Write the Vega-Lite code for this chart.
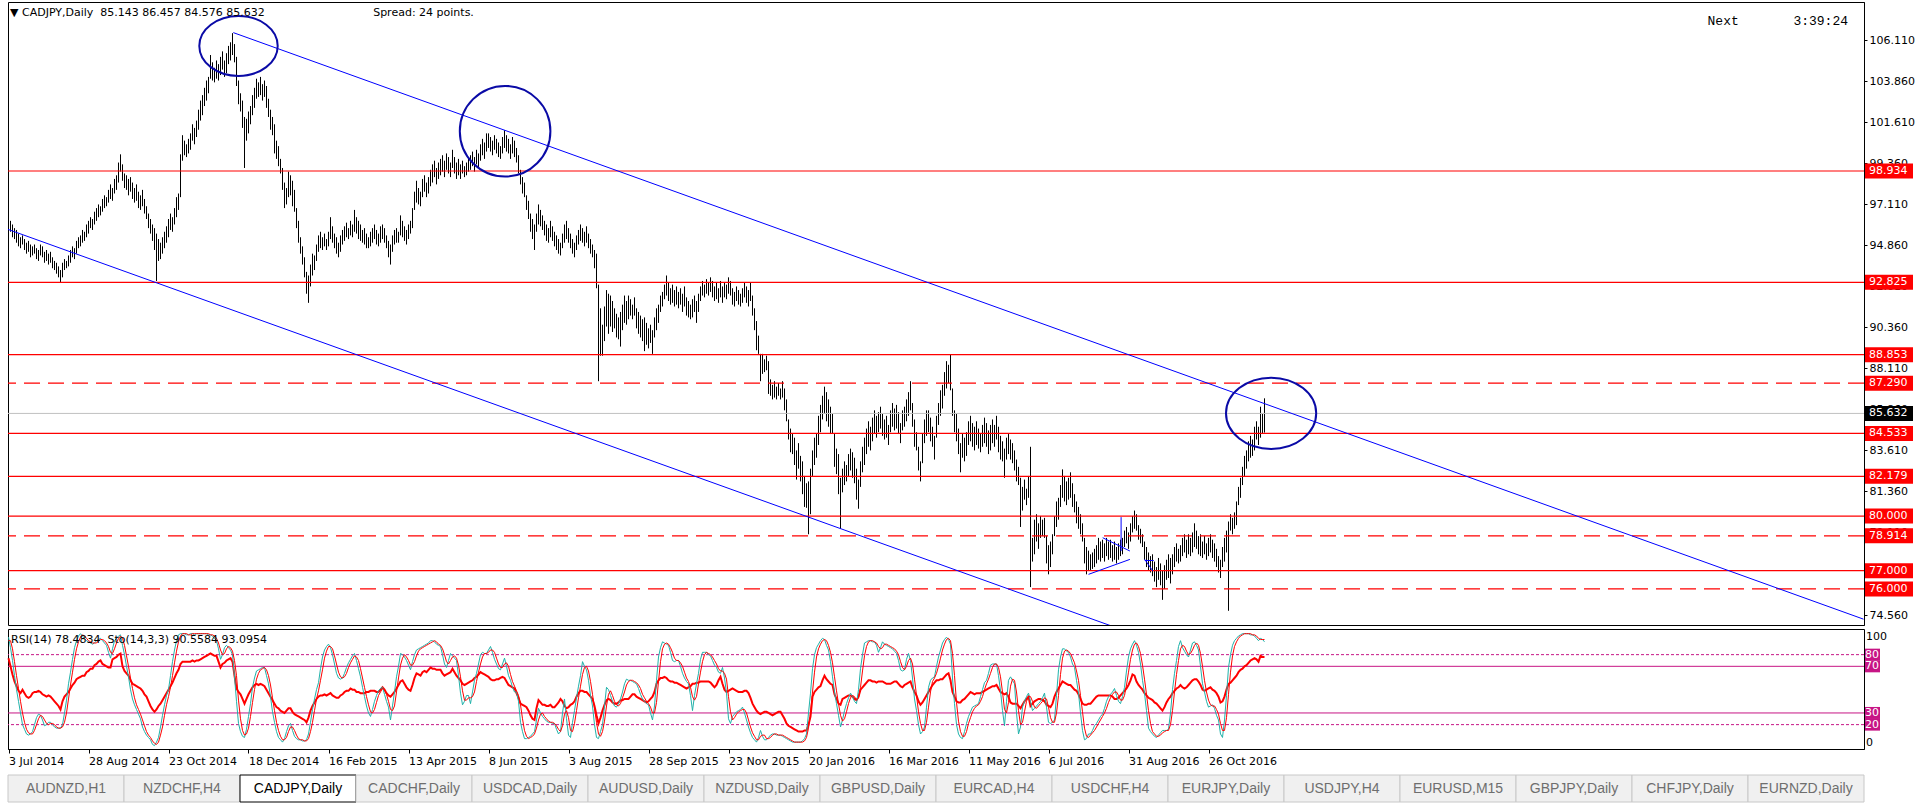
{
"$schema": "https://vega.github.io/schema/vega-lite/v6.json",
"padding": {"left": 4, "top": 1, "right": 0, "bottom": 0},
"background": "#FFFFFF",
"spacing": 2,
"title": {"text": "\u25bc CADJPY,Daily\u00a0\u00a085.143 86.457 84.576 85.632\u00a0\u00a0\u00a0\u00a0\u00a0\u00a0\u00a0\u00a0\u00a0\u00a0\u00a0\u00a0\u00a0\u00a0\u00a0\u00a0\u00a0\u00a0\u00a0\u00a0\u00a0\u00a0\u00a0\u00a0\u00a0\u00a0\u00a0\u00a0\u00a0\u00a0\u00a0Spread: 24 points.", "anchor": "start", "baseline": "top", "offset": -16, "dx": 6, "font": "DejaVu Sans", "fontSize": 11, "fontWeight": "normal", "color": "#000000"},
"config": {"view": {"stroke": "#000000", "strokeWidth": 1}},
"datasets": {
"bars": [
{"i":0,"h":96.4,"l":95.7,"r":77,"k":95,"d":92},
{"i":1,"h":96.2,"l":95.6,"r":70,"k":86,"d":92},
{"i":2,"h":96.0,"l":95.3,"r":63,"k":75,"d":85},
{"i":3,"h":95.8,"l":95.2,"r":57,"k":62,"d":74},
{"i":4,"h":95.7,"l":95.0,"r":53,"k":50,"d":62},
{"i":5,"h":95.5,"l":94.8,"r":49,"k":40,"d":51},
{"i":6,"h":95.3,"l":94.7,"r":47,"k":30,"d":40},
{"i":7,"h":95.4,"l":94.9,"r":50,"k":20,"d":30},
{"i":8,"h":95.2,"l":94.6,"r":47,"k":16,"d":22},
{"i":9,"h":95.0,"l":94.4,"r":44,"k":12,"d":16},
{"i":10,"h":95.1,"l":94.5,"r":43,"k":11,"d":13},
{"i":11,"h":94.9,"l":94.2,"r":44,"k":12,"d":12},
{"i":12,"h":94.8,"l":94.3,"r":47,"k":14,"d":12},
{"i":13,"h":94.9,"l":94.4,"r":48,"k":20,"d":15},
{"i":14,"h":94.7,"l":94.1,"r":48,"k":26,"d":20},
{"i":15,"h":94.6,"l":94.0,"r":49,"k":29,"d":25},
{"i":16,"h":94.9,"l":94.3,"r":48,"k":28,"d":28},
{"i":17,"h":94.8,"l":94.2,"r":46,"k":24,"d":27},
{"i":18,"h":94.5,"l":93.9,"r":45,"k":19,"d":24},
{"i":19,"h":94.6,"l":94.0,"r":44,"k":20,"d":21},
{"i":20,"h":94.4,"l":93.8,"r":45,"k":22,"d":20},
{"i":21,"h":94.5,"l":93.9,"r":44,"k":22,"d":21},
{"i":22,"h":94.2,"l":93.6,"r":42,"k":20,"d":21},
{"i":23,"h":94.0,"l":93.5,"r":40,"k":18,"d":20},
{"i":24,"h":93.9,"l":93.3,"r":38,"k":17,"d":18},
{"i":25,"h":93.7,"l":93.1,"r":36,"k":17,"d":17},
{"i":26,"h":93.5,"l":92.8,"r":33,"k":17,"d":17},
{"i":27,"h":93.9,"l":93.1,"r":40,"k":20,"d":18},
{"i":28,"h":94.1,"l":93.5,"r":44,"k":30,"d":22},
{"i":29,"h":94.0,"l":93.6,"r":46,"k":41,"d":30},
{"i":30,"h":94.3,"l":93.7,"r":48,"k":55,"d":42},
{"i":31,"h":94.6,"l":93.9,"r":51,"k":65,"d":54},
{"i":32,"h":94.8,"l":94.2,"r":54,"k":76,"d":65},
{"i":33,"h":94.7,"l":94.1,"r":56,"k":86,"d":76},
{"i":34,"h":95.1,"l":94.4,"r":59,"k":92,"d":85},
{"i":35,"h":95.3,"l":94.7,"r":60,"k":96,"d":91},
{"i":36,"h":95.4,"l":94.8,"r":61,"k":98,"d":95},
{"i":37,"h":95.7,"l":95.0,"r":62,"k":96,"d":97},
{"i":38,"h":95.6,"l":95.1,"r":62,"k":94,"d":96},
{"i":39,"h":96.0,"l":95.3,"r":65,"k":92,"d":94},
{"i":40,"h":96.2,"l":95.5,"r":66,"k":91,"d":92},
{"i":41,"h":96.4,"l":95.8,"r":68,"k":90,"d":91},
{"i":42,"h":96.3,"l":95.7,"r":68,"k":89,"d":90},
{"i":43,"h":96.7,"l":96.0,"r":71,"k":90,"d":90},
{"i":44,"h":96.9,"l":96.2,"r":72,"k":92,"d":90},
{"i":45,"h":97.1,"l":96.4,"r":74,"k":93,"d":92},
{"i":46,"h":97.0,"l":96.5,"r":75,"k":94,"d":93},
{"i":47,"h":97.4,"l":96.7,"r":72,"k":92,"d":93},
{"i":48,"h":97.6,"l":96.9,"r":71,"k":90,"d":92},
{"i":49,"h":97.5,"l":97.0,"r":70,"k":88,"d":90},
{"i":50,"h":97.9,"l":97.2,"r":69,"k":82,"d":87},
{"i":51,"h":98.2,"l":97.4,"r":69,"k":77,"d":82},
{"i":52,"h":98.0,"l":97.3,"r":76,"k":85,"d":81},
{"i":53,"h":98.5,"l":97.7,"r":77,"k":92,"d":85},
{"i":54,"h":98.7,"l":97.9,"r":78,"k":94,"d":90},
{"i":55,"h":99.4,"l":98.3,"r":80,"k":96,"d":94},
{"i":56,"h":99.85,"l":98.9,"r":81,"k":97,"d":96},
{"i":57,"h":99.3,"l":98.4,"r":70,"k":88,"d":94},
{"i":58,"h":98.8,"l":98.0,"r":66,"k":80,"d":88},
{"i":59,"h":98.7,"l":97.9,"r":64,"k":70,"d":79},
{"i":60,"h":98.5,"l":97.6,"r":62,"k":61,"d":70},
{"i":61,"h":98.6,"l":97.8,"r":58,"k":50,"d":60},
{"i":62,"h":98.3,"l":97.4,"r":55,"k":42,"d":51},
{"i":63,"h":98.0,"l":97.2,"r":54,"k":37,"d":43},
{"i":64,"h":98.2,"l":97.3,"r":53,"k":33,"d":37},
{"i":65,"h":97.8,"l":96.9,"r":52,"k":29,"d":33},
{"i":66,"h":97.6,"l":96.8,"r":51,"k":25,"d":29},
{"i":67,"h":97.9,"l":97.0,"r":49,"k":18,"d":24},
{"i":68,"h":97.4,"l":96.6,"r":46,"k":14,"d":19},
{"i":69,"h":97.0,"l":96.3,"r":44,"k":11,"d":14},
{"i":70,"h":96.6,"l":95.8,"r":40,"k":9,"d":11},
{"i":71,"h":96.3,"l":95.5,"r":36,"k":7,"d":9},
{"i":72,"h":96.0,"l":95.1,"r":33,"k":3,"d":6},
{"i":73,"h":95.8,"l":94.6,"r":31,"k":2,"d":4},
{"i":74,"h":95.5,"l":92.9,"r":33,"k":5,"d":3},
{"i":75,"h":95.2,"l":94.0,"r":36,"k":9,"d":5},
{"i":76,"h":95.0,"l":94.1,"r":38,"k":18,"d":11},
{"i":77,"h":95.3,"l":94.4,"r":41,"k":28,"d":18},
{"i":78,"h":95.6,"l":94.7,"r":44,"k":37,"d":28},
{"i":79,"h":95.9,"l":95.0,"r":47,"k":45,"d":37},
{"i":80,"h":96.3,"l":95.3,"r":50,"k":50,"d":44},
{"i":81,"h":96.6,"l":95.7,"r":53,"k":62,"d":52},
{"i":82,"h":96.4,"l":95.6,"r":56,"k":74,"d":62},
{"i":83,"h":96.9,"l":96.0,"r":60,"k":84,"d":73},
{"i":84,"h":97.5,"l":96.4,"r":64,"k":92,"d":83},
{"i":85,"h":97.7,"l":96.8,"r":67,"k":97,"d":91},
{"i":86,"h":99.85,"l":97.5,"r":72,"k":98,"d":96},
{"i":87,"h":100.9,"l":99.5,"r":74,"k":98,"d":98},
{"i":88,"h":100.6,"l":99.8,"r":74,"k":98,"d":98},
{"i":89,"h":100.4,"l":99.7,"r":74,"k":97,"d":98},
{"i":90,"h":100.7,"l":99.9,"r":74,"k":97,"d":97},
{"i":91,"h":101.0,"l":100.1,"r":74,"k":98,"d":97},
{"i":92,"h":101.5,"l":100.6,"r":75,"k":98,"d":98},
{"i":93,"h":101.3,"l":100.4,"r":74,"k":97,"d":98},
{"i":94,"h":101.7,"l":100.8,"r":75,"k":98,"d":98},
{"i":95,"h":102.3,"l":101.2,"r":75,"k":98,"d":98},
{"i":96,"h":102.8,"l":101.7,"r":76,"k":98,"d":98},
{"i":97,"h":103.1,"l":102.0,"r":77,"k":98,"d":98},
{"i":98,"h":103.5,"l":102.5,"r":78,"k":98,"d":98},
{"i":99,"h":103.9,"l":102.8,"r":79,"k":98,"d":98},
{"i":100,"h":104.1,"l":103.2,"r":80,"k":97,"d":98},
{"i":101,"h":105.3,"l":104.0,"r":81,"k":97,"d":97},
{"i":102,"h":104.9,"l":103.9,"r":80,"k":96,"d":97},
{"i":103,"h":104.6,"l":103.8,"r":79,"k":94,"d":96},
{"i":104,"h":105.0,"l":104.0,"r":79,"k":92,"d":94},
{"i":105,"h":104.8,"l":103.9,"r":74,"k":85,"d":90},
{"i":106,"h":105.2,"l":104.2,"r":69,"k":76,"d":84},
{"i":107,"h":105.5,"l":104.5,"r":72,"k":80,"d":80},
{"i":108,"h":105.0,"l":104.1,"r":73,"k":86,"d":81},
{"i":109,"h":105.4,"l":104.3,"r":75,"k":88,"d":85},
{"i":110,"h":105.8,"l":104.8,"r":76,"k":86,"d":87},
{"i":111,"h":106.0,"l":105.0,"r":77,"k":84,"d":86},
{"i":112,"h":106.5,"l":105.3,"r":74,"k":80,"d":83},
{"i":113,"h":105.9,"l":104.9,"r":62,"k":61,"d":75},
{"i":114,"h":105.2,"l":103.6,"r":51,"k":40,"d":62},
{"i":115,"h":103.9,"l":102.6,"r":48,"k":21,"d":41},
{"i":116,"h":103.2,"l":102.2,"r":46,"k":14,"d":25},
{"i":117,"h":102.8,"l":101.3,"r":42,"k":10,"d":15},
{"i":118,"h":101.9,"l":99.1,"r":38,"k":9,"d":11},
{"i":119,"h":101.8,"l":100.6,"r":42,"k":16,"d":12},
{"i":120,"h":102.2,"l":101.0,"r":46,"k":27,"d":17},
{"i":121,"h":102.5,"l":101.5,"r":49,"k":38,"d":27},
{"i":122,"h":103.1,"l":102.0,"r":52,"k":52,"d":39},
{"i":123,"h":103.5,"l":102.4,"r":54,"k":60,"d":50},
{"i":124,"h":104.0,"l":102.9,"r":55,"k":66,"d":59},
{"i":125,"h":103.8,"l":103.0,"r":54,"k":67,"d":64},
{"i":126,"h":104.1,"l":103.1,"r":55,"k":68,"d":67},
{"i":127,"h":103.7,"l":102.8,"r":54,"k":69,"d":68},
{"i":128,"h":103.9,"l":103.0,"r":53,"k":69,"d":69},
{"i":129,"h":103.6,"l":102.4,"r":50,"k":62,"d":67},
{"i":130,"h":102.9,"l":101.9,"r":47,"k":55,"d":62},
{"i":131,"h":102.3,"l":101.2,"r":44,"k":44,"d":54},
{"i":132,"h":101.9,"l":100.9,"r":41,"k":31,"d":43},
{"i":133,"h":101.5,"l":99.9,"r":38,"k":22,"d":32},
{"i":134,"h":100.6,"l":99.6,"r":35,"k":14,"d":22},
{"i":135,"h":100.3,"l":99.2,"r":34,"k":9,"d":15},
{"i":136,"h":99.6,"l":98.8,"r":32,"k":7,"d":10},
{"i":137,"h":99.1,"l":97.9,"r":31,"k":5,"d":7},
{"i":138,"h":98.3,"l":96.9,"r":30,"k":8,"d":7},
{"i":139,"h":98.0,"l":97.1,"r":32,"k":14,"d":9},
{"i":140,"h":98.9,"l":97.5,"r":34,"k":19,"d":14},
{"i":141,"h":98.7,"l":97.6,"r":34,"k":21,"d":18},
{"i":142,"h":98.4,"l":97.0,"r":31,"k":15,"d":18},
{"i":143,"h":97.9,"l":96.7,"r":29,"k":10,"d":15},
{"i":144,"h":96.9,"l":95.8,"r":28,"k":8,"d":11},
{"i":145,"h":96.2,"l":95.0,"r":27,"k":7,"d":8},
{"i":146,"h":95.3,"l":94.4,"r":26,"k":7,"d":7},
{"i":147,"h":94.8,"l":93.8,"r":25,"k":6,"d":7},
{"i":148,"h":94.2,"l":93.1,"r":24,"k":6,"d":6},
{"i":149,"h":93.4,"l":92.2,"r":22,"k":7,"d":6},
{"i":150,"h":93.2,"l":91.7,"r":26,"k":12,"d":8},
{"i":151,"h":93.8,"l":92.6,"r":32,"k":22,"d":14},
{"i":152,"h":94.4,"l":93.2,"r":36,"k":33,"d":22},
{"i":153,"h":94.3,"l":93.5,"r":39,"k":42,"d":32},
{"i":154,"h":94.9,"l":94.0,"r":42,"k":50,"d":42},
{"i":155,"h":95.4,"l":94.5,"r":44,"k":56,"d":49},
{"i":156,"h":95.6,"l":94.7,"r":45,"k":68,"d":58},
{"i":157,"h":95.3,"l":94.6,"r":45,"k":78,"d":67},
{"i":158,"h":95.5,"l":94.8,"r":46,"k":84,"d":77},
{"i":159,"h":95.2,"l":94.6,"r":45,"k":87,"d":83},
{"i":160,"h":95.6,"l":94.8,"r":46,"k":89,"d":87},
{"i":161,"h":96.4,"l":95.2,"r":47,"k":86,"d":87},
{"i":162,"h":95.9,"l":95.0,"r":45,"k":80,"d":85},
{"i":163,"h":95.5,"l":94.7,"r":44,"k":72,"d":79},
{"i":164,"h":95.3,"l":94.4,"r":43,"k":64,"d":72},
{"i":165,"h":95.0,"l":94.2,"r":43,"k":60,"d":65},
{"i":166,"h":95.4,"l":94.5,"r":45,"k":59,"d":61},
{"i":167,"h":95.7,"l":94.9,"r":46,"k":60,"d":60},
{"i":168,"h":95.9,"l":95.1,"r":48,"k":64,"d":61},
{"i":169,"h":96.1,"l":95.3,"r":49,"k":69,"d":64},
{"i":170,"h":95.8,"l":95.2,"r":49,"k":73,"d":69},
{"i":171,"h":96.2,"l":95.4,"r":51,"k":76,"d":73},
{"i":172,"h":96.0,"l":95.3,"r":50,"k":79,"d":76},
{"i":173,"h":96.8,"l":95.6,"r":50,"k":81,"d":79},
{"i":174,"h":96.4,"l":95.5,"r":48,"k":75,"d":78},
{"i":175,"h":96.2,"l":95.2,"r":48,"k":68,"d":75},
{"i":176,"h":96.0,"l":95.1,"r":47,"k":61,"d":68},
{"i":177,"h":95.7,"l":95.0,"r":47,"k":52,"d":60},
{"i":178,"h":95.8,"l":94.9,"r":47,"k":44,"d":52},
{"i":179,"h":95.5,"l":94.7,"r":48,"k":36,"d":44},
{"i":180,"h":95.3,"l":94.7,"r":48,"k":30,"d":37},
{"i":181,"h":95.6,"l":94.8,"r":49,"k":27,"d":31},
{"i":182,"h":95.8,"l":95.0,"r":49,"k":33,"d":30},
{"i":183,"h":96.0,"l":95.2,"r":49,"k":40,"d":33},
{"i":184,"h":95.7,"l":94.9,"r":48,"k":45,"d":39},
{"i":185,"h":95.5,"l":94.8,"r":48,"k":49,"d":45},
{"i":186,"h":95.9,"l":95.0,"r":50,"k":51,"d":48},
{"i":187,"h":96.0,"l":95.2,"r":52,"k":52,"d":51},
{"i":188,"h":95.8,"l":95.0,"r":50,"k":46,"d":50},
{"i":189,"h":95.4,"l":94.7,"r":47,"k":40,"d":46},
{"i":190,"h":95.1,"l":94.2,"r":45,"k":35,"d":40},
{"i":191,"h":94.9,"l":93.8,"r":44,"k":24,"d":33},
{"i":192,"h":95.4,"l":94.5,"r":46,"k":36,"d":32},
{"i":193,"h":95.7,"l":94.9,"r":48,"k":48,"d":36},
{"i":194,"h":95.8,"l":95.0,"r":51,"k":61,"d":48},
{"i":195,"h":95.6,"l":95.0,"r":54,"k":70,"d":60},
{"i":196,"h":96.5,"l":95.4,"r":57,"k":81,"d":71},
{"i":197,"h":96.2,"l":95.3,"r":58,"k":80,"d":77},
{"i":198,"h":95.9,"l":95.1,"r":55,"k":78,"d":80},
{"i":199,"h":95.7,"l":94.9,"r":52,"k":75,"d":78},
{"i":200,"h":96.0,"l":95.2,"r":50,"k":71,"d":75},
{"i":201,"h":96.2,"l":95.5,"r":49,"k":67,"d":71},
{"i":202,"h":96.9,"l":95.8,"r":54,"k":74,"d":71},
{"i":203,"h":97.8,"l":96.8,"r":60,"k":80,"d":74},
{"i":204,"h":98.4,"l":97.2,"r":64,"k":84,"d":79},
{"i":205,"h":98.0,"l":97.1,"r":63,"k":85,"d":83},
{"i":206,"h":97.8,"l":97.0,"r":62,"k":86,"d":85},
{"i":207,"h":98.5,"l":97.5,"r":65,"k":87,"d":86},
{"i":208,"h":98.7,"l":97.8,"r":66,"k":88,"d":87},
{"i":209,"h":98.3,"l":97.5,"r":65,"k":89,"d":88},
{"i":210,"h":98.6,"l":97.7,"r":67,"k":90,"d":89},
{"i":211,"h":99.0,"l":98.1,"r":69,"k":92,"d":90},
{"i":212,"h":99.3,"l":98.3,"r":68,"k":92,"d":91},
{"i":213,"h":99.5,"l":98.6,"r":68,"k":91,"d":92},
{"i":214,"h":99.1,"l":98.2,"r":67,"k":89,"d":91},
{"i":215,"h":99.4,"l":98.5,"r":67,"k":88,"d":89},
{"i":216,"h":99.6,"l":98.7,"r":67,"k":87,"d":88},
{"i":217,"h":99.8,"l":98.9,"r":64,"k":80,"d":85},
{"i":218,"h":99.5,"l":98.6,"r":62,"k":72,"d":80},
{"i":219,"h":99.9,"l":99.0,"r":63,"k":69,"d":74},
{"i":220,"h":99.7,"l":98.8,"r":64,"k":75,"d":72},
{"i":221,"h":99.4,"l":98.6,"r":65,"k":81,"d":75},
{"i":222,"h":100.1,"l":99.1,"r":68,"k":79,"d":78},
{"i":223,"h":99.7,"l":98.8,"r":65,"k":77,"d":79},
{"i":224,"h":99.4,"l":98.5,"r":62,"k":75,"d":77},
{"i":225,"h":99.6,"l":98.7,"r":60,"k":62,"d":71},
{"i":226,"h":99.3,"l":98.5,"r":58,"k":47,"d":61},
{"i":227,"h":99.5,"l":98.8,"r":55,"k":37,"d":49},
{"i":228,"h":99.2,"l":98.6,"r":54,"k":40,"d":41},
{"i":229,"h":99.4,"l":98.7,"r":55,"k":45,"d":41},
{"i":230,"h":99.6,"l":98.9,"r":56,"k":45,"d":43},
{"i":231,"h":99.8,"l":99.0,"r":57,"k":38,"d":43},
{"i":232,"h":100.0,"l":99.2,"r":58,"k":48,"d":44},
{"i":233,"h":99.7,"l":98.9,"r":60,"k":58,"d":48},
{"i":234,"h":100.1,"l":99.3,"r":61,"k":64,"d":57},
{"i":235,"h":99.9,"l":99.1,"r":63,"k":72,"d":65},
{"i":236,"h":100.4,"l":99.5,"r":65,"k":80,"d":72},
{"i":237,"h":100.7,"l":99.8,"r":64,"k":82,"d":78},
{"i":238,"h":100.5,"l":99.6,"r":63,"k":81,"d":81},
{"i":239,"h":101.0,"l":100.0,"r":62,"k":81,"d":81},
{"i":240,"h":101.0,"l":100.2,"r":61,"k":84,"d":82},
{"i":241,"h":100.8,"l":100.0,"r":59,"k":87,"d":84},
{"i":242,"h":100.6,"l":99.8,"r":58,"k":82,"d":84},
{"i":243,"h":100.9,"l":100.1,"r":58,"k":76,"d":82},
{"i":244,"h":100.7,"l":99.9,"r":59,"k":72,"d":77},
{"i":245,"h":100.5,"l":99.7,"r":59,"k":68,"d":72},
{"i":246,"h":100.3,"l":99.6,"r":60,"k":67,"d":69},
{"i":247,"h":100.8,"l":99.9,"r":61,"k":72,"d":69},
{"i":248,"h":101.17,"l":100.2,"r":60,"k":77,"d":72},
{"i":249,"h":100.9,"l":100.0,"r":57,"k":70,"d":73},
{"i":250,"h":100.7,"l":99.9,"r":54,"k":62,"d":70},
{"i":251,"h":100.4,"l":99.6,"r":53,"k":58,"d":63},
{"i":252,"h":100.8,"l":99.9,"r":52,"k":52,"d":57},
{"i":253,"h":100.6,"l":99.7,"r":51,"k":48,"d":53},
{"i":254,"h":100.2,"l":99.4,"r":47,"k":48,"d":49},
{"i":255,"h":99.8,"l":98.8,"r":43,"k":40,"d":45},
{"i":256,"h":99.0,"l":98.2,"r":38,"k":22,"d":37},
{"i":257,"h":98.6,"l":97.7,"r":37,"k":14,"d":25},
{"i":258,"h":98.3,"l":97.5,"r":36,"k":8,"d":15},
{"i":259,"h":97.6,"l":96.8,"r":35,"k":8,"d":10},
{"i":260,"h":97.3,"l":96.3,"r":32,"k":9,"d":8},
{"i":261,"h":96.6,"l":95.6,"r":28,"k":10,"d":9},
{"i":262,"h":96.3,"l":95.2,"r":25,"k":12,"d":10},
{"i":263,"h":96.0,"l":94.6,"r":24,"k":14,"d":12},
{"i":264,"h":96.6,"l":95.6,"r":34,"k":24,"d":17},
{"i":265,"h":97.1,"l":96.0,"r":41,"k":34,"d":24},
{"i":266,"h":96.8,"l":95.9,"r":39,"k":30,"d":29},
{"i":267,"h":96.5,"l":95.7,"r":37,"k":27,"d":30},
{"i":268,"h":96.2,"l":95.4,"r":37,"k":25,"d":27},
{"i":269,"h":96.0,"l":95.1,"r":36,"k":23,"d":25},
{"i":270,"h":95.8,"l":95.0,"r":36,"k":22,"d":23},
{"i":271,"h":96.2,"l":95.3,"r":37,"k":22,"d":22},
{"i":272,"h":95.9,"l":95.1,"r":35,"k":21,"d":22},
{"i":273,"h":95.6,"l":94.8,"r":35,"k":21,"d":21},
{"i":274,"h":95.4,"l":94.6,"r":37,"k":16,"d":19},
{"i":275,"h":95.2,"l":94.4,"r":39,"k":12,"d":16},
{"i":276,"h":95.0,"l":94.3,"r":42,"k":14,"d":14},
{"i":277,"h":95.5,"l":94.7,"r":40,"k":30,"d":19},
{"i":278,"h":96.0,"l":95.0,"r":36,"k":42,"d":29},
{"i":279,"h":96.2,"l":95.2,"r":34,"k":25,"d":32},
{"i":280,"h":95.8,"l":95.0,"r":35,"k":11,"d":26},
{"i":281,"h":95.5,"l":94.7,"r":37,"k":9,"d":15},
{"i":282,"h":95.2,"l":94.4,"r":38,"k":22,"d":14},
{"i":283,"h":95.0,"l":94.2,"r":40,"k":32,"d":21},
{"i":284,"h":95.4,"l":94.6,"r":44,"k":43,"d":32},
{"i":285,"h":95.7,"l":94.9,"r":47,"k":53,"d":43},
{"i":286,"h":96.0,"l":95.1,"r":49,"k":62,"d":53},
{"i":287,"h":95.8,"l":95.0,"r":49,"k":74,"d":63},
{"i":288,"h":95.6,"l":94.8,"r":48,"k":70,"d":69},
{"i":289,"h":95.9,"l":95.0,"r":48,"k":67,"d":70},
{"i":290,"h":95.5,"l":94.7,"r":46,"k":58,"d":66},
{"i":291,"h":95.2,"l":94.4,"r":44,"k":45,"d":57},
{"i":292,"h":94.9,"l":94.2,"r":42,"k":36,"d":46},
{"i":293,"h":94.6,"l":93.6,"r":36,"k":20,"d":34},
{"i":294,"h":94.4,"l":92.5,"r":28,"k":9,"d":22},
{"i":295,"h":92.7,"l":87.4,"r":21,"k":8,"d":12},
{"i":296,"h":91.4,"l":88.8,"r":26,"k":14,"d":10},
{"i":297,"h":90.5,"l":88.8,"r":32,"k":20,"d":14},
{"i":298,"h":91.5,"l":89.6,"r":37,"k":36,"d":23},
{"i":299,"h":92.4,"l":90.4,"r":41,"k":52,"d":36},
{"i":300,"h":92.2,"l":90.0,"r":42,"k":50,"d":46},
{"i":301,"h":92.1,"l":90.4,"r":41,"k":45,"d":49},
{"i":302,"h":91.8,"l":90.1,"r":39,"k":40,"d":45},
{"i":303,"h":91.4,"l":90.3,"r":38,"k":36,"d":40},
{"i":304,"h":91.1,"l":89.8,"r":38,"k":35,"d":37},
{"i":305,"h":90.9,"l":89.7,"r":39,"k":38,"d":36},
{"i":306,"h":91.2,"l":89.3,"r":41,"k":42,"d":38},
{"i":307,"h":91.6,"l":90.2,"r":41,"k":48,"d":43},
{"i":308,"h":92.1,"l":90.6,"r":42,"k":55,"d":48},
{"i":309,"h":91.8,"l":90.5,"r":42,"k":59,"d":54},
{"i":310,"h":92.1,"l":90.8,"r":42,"k":58,"d":57},
{"i":311,"h":91.9,"l":91.0,"r":44,"k":58,"d":58},
{"i":312,"h":91.6,"l":90.8,"r":46,"k":57,"d":58},
{"i":313,"h":92.0,"l":91.0,"r":46,"k":56,"d":57},
{"i":314,"h":91.4,"l":90.3,"r":44,"k":55,"d":56},
{"i":315,"h":91.2,"l":90.0,"r":43,"k":51,"d":54},
{"i":316,"h":91.0,"l":89.8,"r":42,"k":46,"d":51},
{"i":317,"h":90.8,"l":89.6,"r":41,"k":42,"d":46},
{"i":318,"h":90.9,"l":89.05,"r":40,"k":40,"d":43},
{"i":319,"h":90.6,"l":89.4,"r":39,"k":38,"d":40},
{"i":320,"h":90.3,"l":89.2,"r":40,"k":37,"d":38},
{"i":321,"h":90.5,"l":89.5,"r":42,"k":30,"d":35},
{"i":322,"h":90.2,"l":88.9,"r":44,"k":24,"d":30},
{"i":323,"h":90.9,"l":89.8,"r":48,"k":36,"d":30},
{"i":324,"h":91.4,"l":90.2,"r":55,"k":58,"d":39},
{"i":325,"h":91.6,"l":90.6,"r":58,"k":78,"d":57},
{"i":326,"h":92.1,"l":91.2,"r":60,"k":86,"d":74},
{"i":327,"h":92.3,"l":91.5,"r":60,"k":91,"d":85},
{"i":328,"h":92.7,"l":91.9,"r":61,"k":90,"d":89},
{"i":329,"h":93.2,"l":92.1,"r":60,"k":89,"d":90},
{"i":330,"h":92.8,"l":91.8,"r":58,"k":88,"d":89},
{"i":331,"h":92.5,"l":91.6,"r":57,"k":82,"d":86},
{"i":332,"h":92.7,"l":91.7,"r":57,"k":75,"d":82},
{"i":333,"h":92.4,"l":91.5,"r":56,"k":74,"d":77},
{"i":334,"h":92.6,"l":91.6,"r":56,"k":75,"d":75},
{"i":335,"h":92.3,"l":91.4,"r":55,"k":75,"d":75},
{"i":336,"h":92.5,"l":91.6,"r":54,"k":70,"d":73},
{"i":337,"h":92.2,"l":91.2,"r":53,"k":64,"d":70},
{"i":338,"h":92.6,"l":91.5,"r":52,"k":60,"d":65},
{"i":339,"h":92.0,"l":91.0,"r":51,"k":57,"d":60},
{"i":340,"h":91.8,"l":90.9,"r":52,"k":55,"d":57},
{"i":341,"h":91.6,"l":90.8,"r":53,"k":45,"d":52},
{"i":342,"h":91.9,"l":90.9,"r":55,"k":32,"d":44},
{"i":343,"h":92.1,"l":91.2,"r":55,"k":45,"d":41},
{"i":344,"h":91.8,"l":90.6,"r":56,"k":55,"d":44},
{"i":345,"h":92.2,"l":91.2,"r":56,"k":64,"d":55},
{"i":346,"h":92.6,"l":91.8,"r":57,"k":76,"d":65},
{"i":347,"h":92.9,"l":92.1,"r":57,"k":82,"d":74},
{"i":348,"h":92.7,"l":92.0,"r":57,"k":82,"d":80},
{"i":349,"h":93.0,"l":92.2,"r":57,"k":82,"d":82},
{"i":350,"h":92.8,"l":92.1,"r":57,"k":80,"d":81},
{"i":351,"h":93.1,"l":92.3,"r":56,"k":79,"d":80},
{"i":352,"h":92.9,"l":92.0,"r":54,"k":75,"d":78},
{"i":353,"h":92.6,"l":91.8,"r":52,"k":71,"d":75},
{"i":354,"h":92.8,"l":91.9,"r":54,"k":69,"d":72},
{"i":355,"h":92.5,"l":91.7,"r":58,"k":65,"d":68},
{"i":356,"h":92.9,"l":92.0,"r":61,"k":64,"d":66},
{"i":357,"h":92.6,"l":91.7,"r":55,"k":69,"d":66},
{"i":358,"h":92.8,"l":92.0,"r":50,"k":60,"d":64},
{"i":359,"h":92.7,"l":91.9,"r":48,"k":47,"d":59},
{"i":360,"h":93.1,"l":92.2,"r":49,"k":25,"d":44},
{"i":361,"h":92.9,"l":92.1,"r":50,"k":21,"d":31},
{"i":362,"h":92.5,"l":91.6,"r":51,"k":27,"d":24},
{"i":363,"h":92.3,"l":91.5,"r":50,"k":29,"d":26},
{"i":364,"h":92.6,"l":91.8,"r":49,"k":31,"d":29},
{"i":365,"h":92.4,"l":91.6,"r":48,"k":32,"d":31},
{"i":366,"h":92.2,"l":91.5,"r":48,"k":33,"d":32},
{"i":367,"h":92.5,"l":91.7,"r":48,"k":35,"d":33},
{"i":368,"h":92.8,"l":92.0,"r":49,"k":30,"d":33},
{"i":369,"h":92.6,"l":91.7,"r":49,"k":24,"d":30},
{"i":370,"h":92.4,"l":91.5,"r":47,"k":18,"d":24},
{"i":371,"h":92.8,"l":91.8,"r":43,"k":13,"d":18},
{"i":372,"h":92.1,"l":91.0,"r":38,"k":9,"d":13},
{"i":373,"h":91.4,"l":90.2,"r":35,"k":7,"d":10},
{"i":374,"h":90.7,"l":89.1,"r":32,"k":5,"d":7},
{"i":375,"h":89.9,"l":88.9,"r":30,"k":9,"d":7},
{"i":376,"h":88.9,"l":87.4,"r":29,"k":15,"d":10},
{"i":377,"h":88.9,"l":87.8,"r":30,"k":10,"d":11},
{"i":378,"h":88.6,"l":87.9,"r":31,"k":7,"d":11},
{"i":379,"h":88.8,"l":88.0,"r":31,"k":7,"d":8},
{"i":380,"h":88.5,"l":86.7,"r":30,"k":9,"d":8},
{"i":381,"h":87.5,"l":86.6,"r":29,"k":11,"d":9},
{"i":382,"h":87.2,"l":86.4,"r":28,"k":12,"d":11},
{"i":383,"h":87.4,"l":86.5,"r":29,"k":12,"d":12},
{"i":384,"h":87.1,"l":86.4,"r":30,"k":11,"d":12},
{"i":385,"h":87.3,"l":86.6,"r":31,"k":11,"d":11},
{"i":386,"h":87.0,"l":86.4,"r":31,"k":11,"d":11},
{"i":387,"h":87.4,"l":86.5,"r":28,"k":10,"d":11},
{"i":388,"h":87.0,"l":85.8,"r":25,"k":9,"d":10},
{"i":389,"h":86.4,"l":85.2,"r":21,"k":8,"d":9},
{"i":390,"h":85.3,"l":84.2,"r":19,"k":7,"d":8},
{"i":391,"h":84.8,"l":83.5,"r":18,"k":6,"d":7},
{"i":392,"h":84.5,"l":83.4,"r":17,"k":5,"d":6},
{"i":393,"h":84.3,"l":82.8,"r":16,"k":5,"d":5},
{"i":394,"h":83.6,"l":82.0,"r":15,"k":5,"d":5},
{"i":395,"h":84.0,"l":82.6,"r":14,"k":5,"d":5},
{"i":396,"h":83.3,"l":81.9,"r":14,"k":5,"d":5},
{"i":397,"h":83.0,"l":81.2,"r":14,"k":6,"d":5},
{"i":398,"h":82.2,"l":80.5,"r":15,"k":8,"d":6},
{"i":399,"h":81.8,"l":80.45,"r":15,"k":12,"d":9},
{"i":400,"h":81.9,"l":79.0,"r":20,"k":30,"d":17},
{"i":401,"h":82.6,"l":80.1,"r":27,"k":47,"d":30},
{"i":402,"h":83.6,"l":82.2,"r":44,"k":68,"d":48},
{"i":403,"h":84.3,"l":82.8,"r":48,"k":80,"d":65},
{"i":404,"h":84.5,"l":83.2,"r":50,"k":86,"d":78},
{"i":405,"h":85.5,"l":83.9,"r":52,"k":89,"d":85},
{"i":406,"h":86.1,"l":84.6,"r":53,"k":92,"d":89},
{"i":407,"h":86.6,"l":85.3,"r":58,"k":94,"d":92},
{"i":408,"h":87.1,"l":85.6,"r":62,"k":93,"d":93},
{"i":409,"h":86.8,"l":85.2,"r":59,"k":88,"d":92},
{"i":410,"h":86.4,"l":84.9,"r":57,"k":84,"d":88},
{"i":411,"h":86.0,"l":84.5,"r":55,"k":74,"d":82},
{"i":412,"h":85.6,"l":84.5,"r":54,"k":61,"d":73},
{"i":413,"h":84.5,"l":82.7,"r":46,"k":48,"d":61},
{"i":414,"h":83.7,"l":82.3,"r":42,"k":38,"d":49},
{"i":415,"h":83.4,"l":81.2,"r":38,"k":28,"d":38},
{"i":416,"h":82.1,"l":79.3,"r":37,"k":18,"d":28},
{"i":417,"h":82.6,"l":81.3,"r":42,"k":24,"d":23},
{"i":418,"h":83.0,"l":81.7,"r":43,"k":32,"d":25},
{"i":419,"h":82.8,"l":81.9,"r":44,"k":38,"d":31},
{"i":420,"h":83.4,"l":82.2,"r":45,"k":43,"d":38},
{"i":421,"h":83.7,"l":82.5,"r":45,"k":47,"d":43},
{"i":422,"h":83.5,"l":82.1,"r":44,"k":44,"d":45},
{"i":423,"h":83.2,"l":81.8,"r":42,"k":40,"d":44},
{"i":424,"h":82.6,"l":80.9,"r":41,"k":38,"d":41},
{"i":425,"h":82.0,"l":80.4,"r":44,"k":50,"d":43},
{"i":426,"h":83.0,"l":81.6,"r":50,"k":68,"d":52},
{"i":427,"h":83.8,"l":82.4,"r":52,"k":80,"d":66},
{"i":428,"h":84.3,"l":82.8,"r":54,"k":90,"d":79},
{"i":429,"h":84.8,"l":83.4,"r":56,"k":91,"d":87},
{"i":430,"h":85.2,"l":83.8,"r":58,"k":92,"d":91},
{"i":431,"h":84.9,"l":83.6,"r":58,"k":92,"d":92},
{"i":432,"h":85.4,"l":84.1,"r":57,"k":91,"d":92},
{"i":433,"h":85.8,"l":84.5,"r":57,"k":91,"d":91},
{"i":434,"h":85.5,"l":84.3,"r":56,"k":88,"d":90},
{"i":435,"h":85.7,"l":84.6,"r":57,"k":82,"d":87},
{"i":436,"h":86.0,"l":84.8,"r":57,"k":86,"d":85},
{"i":437,"h":85.6,"l":84.4,"r":57,"k":91,"d":86},
{"i":438,"h":85.3,"l":84.2,"r":56,"k":89,"d":89},
{"i":439,"h":85.5,"l":84.3,"r":55,"k":88,"d":89},
{"i":440,"h":85.0,"l":83.9,"r":55,"k":87,"d":88},
{"i":441,"h":85.8,"l":84.6,"r":55,"k":86,"d":87},
{"i":442,"h":86.2,"l":84.9,"r":56,"k":85,"d":86},
{"i":443,"h":85.9,"l":84.7,"r":57,"k":83,"d":85},
{"i":444,"h":86.1,"l":84.8,"r":57,"k":81,"d":83},
{"i":445,"h":85.7,"l":84.5,"r":55,"k":75,"d":80},
{"i":446,"h":85.1,"l":84.0,"r":53,"k":67,"d":74},
{"i":447,"h":85.8,"l":84.7,"r":52,"k":66,"d":69},
{"i":448,"h":86.0,"l":84.9,"r":54,"k":67,"d":67},
{"i":449,"h":86.4,"l":85.2,"r":55,"k":76,"d":70},
{"i":450,"h":86.8,"l":85.5,"r":56,"k":81,"d":75},
{"i":451,"h":87.4,"l":85.8,"r":57,"k":75,"d":77},
{"i":452,"h":86.2,"l":84.9,"r":52,"k":60,"d":72},
{"i":453,"h":85.3,"l":83.8,"r":48,"k":42,"d":59},
{"i":454,"h":84.6,"l":83.6,"r":45,"k":32,"d":45},
{"i":455,"h":83.8,"l":82.5,"r":40,"k":20,"d":31},
{"i":456,"h":83.0,"l":81.9,"r":37,"k":12,"d":21},
{"i":457,"h":84.5,"l":82.9,"r":39,"k":14,"d":15},
{"i":458,"h":85.3,"l":84.0,"r":42,"k":18,"d":15},
{"i":459,"h":85.8,"l":84.4,"r":45,"k":35,"d":22},
{"i":460,"h":85.8,"l":84.6,"r":48,"k":52,"d":35},
{"i":461,"h":85.4,"l":84.1,"r":51,"k":58,"d":48},
{"i":462,"h":84.9,"l":83.8,"r":54,"k":60,"d":57},
{"i":463,"h":84.4,"l":83.1,"r":56,"k":61,"d":60},
{"i":464,"h":85.5,"l":84.3,"r":58,"k":70,"d":64},
{"i":465,"h":86.2,"l":85.0,"r":58,"k":78,"d":70},
{"i":466,"h":86.9,"l":85.5,"r":59,"k":84,"d":77},
{"i":467,"h":87.2,"l":85.9,"r":59,"k":90,"d":84},
{"i":468,"h":87.9,"l":86.6,"r":61,"k":93,"d":89},
{"i":469,"h":88.5,"l":87.0,"r":63,"k":95,"d":93},
{"i":470,"h":88.3,"l":87.3,"r":64,"k":93,"d":94},
{"i":471,"h":88.87,"l":86.9,"r":58,"k":89,"d":92},
{"i":472,"h":87.0,"l":85.5,"r":48,"k":60,"d":81},
{"i":473,"h":85.8,"l":84.6,"r":44,"k":38,"d":62},
{"i":474,"h":85.6,"l":84.1,"r":40,"k":20,"d":39},
{"i":475,"h":84.8,"l":83.4,"r":39,"k":12,"d":23},
{"i":476,"h":84.0,"l":82.4,"r":39,"k":9,"d":14},
{"i":477,"h":84.5,"l":83.2,"r":41,"k":8,"d":10},
{"i":478,"h":84.3,"l":83.0,"r":42,"k":14,"d":10},
{"i":479,"h":84.6,"l":83.3,"r":44,"k":21,"d":14},
{"i":480,"h":85.2,"l":83.9,"r":46,"k":27,"d":21},
{"i":481,"h":85.5,"l":84.1,"r":48,"k":31,"d":26},
{"i":482,"h":85.1,"l":83.8,"r":47,"k":35,"d":31},
{"i":483,"h":84.9,"l":83.6,"r":46,"k":36,"d":34},
{"i":484,"h":85.2,"l":83.9,"r":47,"k":37,"d":36},
{"i":485,"h":84.8,"l":83.7,"r":47,"k":38,"d":37},
{"i":486,"h":84.5,"l":83.5,"r":47,"k":44,"d":40},
{"i":487,"h":85.0,"l":83.8,"r":48,"k":50,"d":44},
{"i":488,"h":85.4,"l":84.0,"r":49,"k":56,"d":50},
{"i":489,"h":85.1,"l":83.8,"r":50,"k":58,"d":55},
{"i":490,"h":84.7,"l":83.4,"r":51,"k":64,"d":59},
{"i":491,"h":85.0,"l":83.6,"r":52,"k":71,"d":64},
{"i":492,"h":85.3,"l":84.0,"r":53,"k":72,"d":69},
{"i":493,"h":85.0,"l":83.8,"r":53,"k":72,"d":72},
{"i":494,"h":85.5,"l":84.2,"r":54,"k":72,"d":72},
{"i":495,"h":84.9,"l":83.5,"r":51,"k":62,"d":69},
{"i":496,"h":84.4,"l":83.1,"r":48,"k":49,"d":61},
{"i":497,"h":84.1,"l":83.0,"r":47,"k":32,"d":48},
{"i":498,"h":83.7,"l":82.1,"r":46,"k":19,"d":33},
{"i":499,"h":84.3,"l":83.1,"r":47,"k":40,"d":30},
{"i":500,"h":84.5,"l":83.4,"r":44,"k":58,"d":39},
{"i":501,"h":84.2,"l":83.1,"r":39,"k":61,"d":53},
{"i":502,"h":84.0,"l":82.9,"r":38,"k":58,"d":59},
{"i":503,"h":83.6,"l":82.5,"r":38,"k":55,"d":58},
{"i":504,"h":83.1,"l":81.9,"r":38,"k":30,"d":48},
{"i":505,"h":82.7,"l":81.7,"r":36,"k":12,"d":32},
{"i":506,"h":82.1,"l":79.4,"r":34,"k":18,"d":20},
{"i":507,"h":81.6,"l":80.3,"r":37,"k":35,"d":22},
{"i":508,"h":82.0,"l":80.9,"r":40,"k":40,"d":31},
{"i":509,"h":81.5,"l":80.6,"r":42,"k":44,"d":40},
{"i":510,"h":82.2,"l":81.0,"r":44,"k":47,"d":44},
{"i":511,"h":83.8,"l":76.1,"r":36,"k":40,"d":44},
{"i":512,"h":78.8,"l":77.5,"r":38,"k":32,"d":40},
{"i":513,"h":79.8,"l":77.9,"r":40,"k":34,"d":35},
{"i":514,"h":80.1,"l":78.6,"r":41,"k":36,"d":34},
{"i":515,"h":79.6,"l":78.2,"r":42,"k":38,"d":36},
{"i":516,"h":80.0,"l":78.8,"r":42,"k":40,"d":38},
{"i":517,"h":79.8,"l":78.9,"r":41,"k":43,"d":40},
{"i":518,"h":79.9,"l":78.8,"r":40,"k":47,"d":43},
{"i":519,"h":78.9,"l":77.4,"r":37,"k":35,"d":42},
{"i":520,"h":78.4,"l":76.8,"r":36,"k":22,"d":35},
{"i":521,"h":78.6,"l":77.2,"r":35,"k":21,"d":26},
{"i":522,"h":79.0,"l":77.9,"r":38,"k":22,"d":22},
{"i":523,"h":80.0,"l":78.9,"r":44,"k":24,"d":22},
{"i":524,"h":80.8,"l":79.4,"r":48,"k":45,"d":30},
{"i":525,"h":81.0,"l":79.8,"r":51,"k":67,"d":45},
{"i":526,"h":81.7,"l":80.5,"r":54,"k":78,"d":63},
{"i":527,"h":82.56,"l":81.0,"r":57,"k":85,"d":77},
{"i":528,"h":82.2,"l":80.8,"r":56,"k":85,"d":83},
{"i":529,"h":81.9,"l":80.6,"r":55,"k":83,"d":84},
{"i":530,"h":82.1,"l":80.9,"r":54,"k":82,"d":83},
{"i":531,"h":82.4,"l":81.0,"r":54,"k":78,"d":81},
{"i":532,"h":81.8,"l":80.5,"r":52,"k":72,"d":77},
{"i":533,"h":81.2,"l":80.2,"r":50,"k":69,"d":73},
{"i":534,"h":80.8,"l":79.6,"r":49,"k":58,"d":66},
{"i":535,"h":80.5,"l":79.3,"r":46,"k":47,"d":58},
{"i":536,"h":80.1,"l":79.0,"r":42,"k":30,"d":45},
{"i":537,"h":79.6,"l":78.6,"r":38,"k":15,"d":31},
{"i":538,"h":78.8,"l":77.4,"r":37,"k":7,"d":17},
{"i":539,"h":78.3,"l":76.8,"r":37,"k":8,"d":10},
{"i":540,"h":78.1,"l":77.0,"r":38,"k":12,"d":9},
{"i":541,"h":77.9,"l":77.0,"r":38,"k":12,"d":11},
{"i":542,"h":78.0,"l":77.1,"r":40,"k":15,"d":13},
{"i":543,"h":78.2,"l":77.2,"r":42,"k":19,"d":15},
{"i":544,"h":78.4,"l":77.4,"r":44,"k":21,"d":18},
{"i":545,"h":78.8,"l":77.6,"r":45,"k":24,"d":21},
{"i":546,"h":78.6,"l":77.5,"r":45,"k":27,"d":24},
{"i":547,"h":78.7,"l":77.7,"r":45,"k":29,"d":27},
{"i":548,"h":78.5,"l":77.5,"r":45,"k":34,"d":30},
{"i":549,"h":78.8,"l":77.8,"r":45,"k":40,"d":34},
{"i":550,"h":78.6,"l":77.6,"r":45,"k":44,"d":39},
{"i":551,"h":78.7,"l":77.7,"r":45,"k":46,"d":43},
{"i":552,"h":78.4,"l":77.5,"r":44,"k":48,"d":46},
{"i":553,"h":78.6,"l":77.6,"r":42,"k":51,"d":48},
{"i":554,"h":78.3,"l":77.4,"r":42,"k":45,"d":48},
{"i":555,"h":78.5,"l":77.6,"r":43,"k":40,"d":45},
{"i":556,"h":78.7,"l":77.8,"r":45,"k":38,"d":41},
{"i":557,"h":78.8,"l":77.9,"r":47,"k":44,"d":41},
{"i":558,"h":79.2,"l":78.3,"r":49,"k":52,"d":45},
{"i":559,"h":79.4,"l":78.5,"r":51,"k":66,"d":54},
{"i":560,"h":79.1,"l":78.2,"r":54,"k":78,"d":65},
{"i":561,"h":79.6,"l":78.6,"r":58,"k":85,"d":76},
{"i":562,"h":80.0,"l":79.1,"r":63,"k":89,"d":84},
{"i":563,"h":80.3,"l":79.3,"r":62,"k":92,"d":89},
{"i":564,"h":80.1,"l":79.2,"r":57,"k":88,"d":90},
{"i":565,"h":79.5,"l":78.7,"r":54,"k":82,"d":87},
{"i":566,"h":79.3,"l":78.5,"r":52,"k":72,"d":81},
{"i":567,"h":79.0,"l":78.3,"r":50,"k":58,"d":71},
{"i":568,"h":78.6,"l":77.6,"r":47,"k":47,"d":59},
{"i":569,"h":78.3,"l":77.2,"r":45,"k":32,"d":46},
{"i":570,"h":78.0,"l":77.0,"r":43,"k":17,"d":32},
{"i":571,"h":77.8,"l":76.9,"r":42,"k":14,"d":21},
{"i":572,"h":77.9,"l":76.7,"r":41,"k":12,"d":14},
{"i":573,"h":77.5,"l":76.4,"r":39,"k":10,"d":12},
{"i":574,"h":77.2,"l":76.1,"r":38,"k":9,"d":10},
{"i":575,"h":77.7,"l":76.5,"r":36,"k":11,"d":10},
{"i":576,"h":77.4,"l":76.2,"r":34,"k":13,"d":11},
{"i":577,"h":77.0,"l":75.4,"r":32,"k":15,"d":13},
{"i":578,"h":77.3,"l":76.0,"r":35,"k":15,"d":14},
{"i":579,"h":77.6,"l":76.5,"r":39,"k":15,"d":15},
{"i":580,"h":77.9,"l":76.6,"r":42,"k":16,"d":15},
{"i":581,"h":77.7,"l":76.3,"r":44,"k":30,"d":20},
{"i":582,"h":77.9,"l":76.8,"r":47,"k":50,"d":32},
{"i":583,"h":78.3,"l":77.2,"r":49,"k":64,"d":48},
{"i":584,"h":78.5,"l":77.5,"r":51,"k":75,"d":63},
{"i":585,"h":78.2,"l":77.4,"r":52,"k":87,"d":75},
{"i":586,"h":78.4,"l":77.5,"r":54,"k":92,"d":85},
{"i":587,"h":78.8,"l":77.8,"r":52,"k":86,"d":88},
{"i":588,"h":79.0,"l":78.0,"r":51,"k":83,"d":87},
{"i":589,"h":78.7,"l":77.7,"r":52,"k":80,"d":83},
{"i":590,"h":79.0,"l":77.9,"r":54,"k":78,"d":80},
{"i":591,"h":78.8,"l":77.8,"r":56,"k":84,"d":81},
{"i":592,"h":79.1,"l":78.0,"r":58,"k":90,"d":84},
{"i":593,"h":79.6,"l":78.3,"r":59,"k":91,"d":88},
{"i":594,"h":79.2,"l":78.2,"r":59,"k":88,"d":90},
{"i":595,"h":78.9,"l":77.9,"r":57,"k":84,"d":88},
{"i":596,"h":79.0,"l":77.8,"r":54,"k":70,"d":81},
{"i":597,"h":78.6,"l":77.7,"r":50,"k":55,"d":70},
{"i":598,"h":78.9,"l":77.9,"r":49,"k":48,"d":58},
{"i":599,"h":78.5,"l":77.6,"r":50,"k":40,"d":48},
{"i":600,"h":78.8,"l":77.8,"r":51,"k":35,"d":41},
{"i":601,"h":79.0,"l":78.0,"r":52,"k":36,"d":37},
{"i":602,"h":78.7,"l":77.7,"r":50,"k":37,"d":36},
{"i":603,"h":78.5,"l":77.5,"r":49,"k":34,"d":36},
{"i":604,"h":78.2,"l":77.2,"r":47,"k":28,"d":33},
{"i":605,"h":77.8,"l":76.9,"r":44,"k":24,"d":29},
{"i":606,"h":77.6,"l":76.6,"r":39,"k":12,"d":21},
{"i":607,"h":78.3,"l":77.2,"r":40,"k":9,"d":15},
{"i":608,"h":78.8,"l":77.5,"r":44,"k":24,"d":15},
{"i":609,"h":79.2,"l":78.0,"r":50,"k":45,"d":26},
{"i":610,"h":79.7,"l":74.8,"r":55,"k":69,"d":46},
{"i":611,"h":80.1,"l":79.2,"r":56,"k":80,"d":65},
{"i":612,"h":79.9,"l":79.0,"r":58,"k":88,"d":79},
{"i":613,"h":80.2,"l":79.3,"r":60,"k":92,"d":87},
{"i":614,"h":80.8,"l":79.5,"r":62,"k":94,"d":91},
{"i":615,"h":81.6,"l":80.6,"r":65,"k":96,"d":94},
{"i":616,"h":82.1,"l":81.0,"r":67,"k":97,"d":96},
{"i":617,"h":82.7,"l":81.7,"r":68,"k":98,"d":97},
{"i":618,"h":83.3,"l":82.2,"r":70,"k":98,"d":98},
{"i":619,"h":83.6,"l":82.6,"r":71,"k":98,"d":98},
{"i":620,"h":84.1,"l":83.0,"r":73,"k":98,"d":98},
{"i":621,"h":84.4,"l":83.2,"r":75,"k":97,"d":98},
{"i":622,"h":84.2,"l":83.3,"r":76,"k":97,"d":97},
{"i":623,"h":84.9,"l":83.6,"r":77,"k":96,"d":97},
{"i":624,"h":85.2,"l":84.2,"r":76,"k":94,"d":96},
{"i":625,"h":84.9,"l":83.9,"r":74,"k":92,"d":94},
{"i":626,"h":86.0,"l":84.3,"r":79,"k":94,"d":93},
{"i":627,"h":85.6,"l":84.5,"r":78,"k":93,"d":93},
{"i":628,"h":86.46,"l":84.58,"r":78,"k":91,"d":93}
],
"lvS": [{"p":98.934},{"p":92.825},{"p":88.853},{"p":84.533},{"p":82.179},{"p":80.0},{"p":77.0}],
"lvD": [{"p":87.29},{"p":78.914},{"p":76.0}],
"bid": [{"p":85.632}],
"tl": [
{"g":"u","i":112.4,"p":106.53},{"g":"u","i":927.5,"p":74.34},
{"g":"l","i":-0.5,"p":95.74},{"g":"l","i":560,"p":73.63},
{"g":"a","i":540,"p":76.8},{"g":"a","i":560.7,"p":77.62},
{"g":"b","i":547.1,"p":78.81},{"g":"b","i":560.7,"p":78.08},
{"g":"c","i":556.3,"p":79.94},{"g":"c","i":556.3,"p":78.08},
{"g":"e","i":568.1,"p":77.62},{"g":"e","i":572.2,"p":76.98},
{"g":"f","i":568.1,"p":77.56},{"g":"f","i":572.6,"p":77.56}
],
"el": [{"e":1,"i":115,"p":105.8},{"e":2,"i":248.3,"p":101.12},{"e":3,"i":631.3,"p":85.64}],
"ilS": [{"v":70},{"v":30}],
"ilD": [{"v":80},{"v":20}],
"il": [{"v":80},{"v":70},{"v":30},{"v":20}],
"iTop": [{"v":100}],
"iBot": [{"v":0}]
},
"vconcat": [
{
"width": 1856, "height": 623,
"title": {"text": "Next\u00a0\u00a0\u00a0\u00a0\u00a0\u00a0\u00a03:39:24", "anchor": "end", "frame": "group", "baseline": "top", "offset": -26, "dx": -16, "font": "Liberation Mono", "fontSize": 13, "fontWeight": "normal", "color": "#000000"},
"layer": [
{"data": {"name": "bars"}, "mark": {"type": "rule", "color": "#000000", "strokeWidth": 1},
 "encoding": {
  "x": {"field": "i", "type": "quantitative", "scale": {"domain": [-0.25, 927.75], "nice": false, "zero": false}, "axis": null, "title": null},
  "y": {"field": "h", "type": "quantitative", "scale": {"domain": [74.02, 108.21], "nice": false, "zero": false}, "title": null,
        "axis": {"orient": "right", "values": [106.11, 103.86, 101.61, 99.36, 97.11, 94.86, 92.61, 90.36, 88.11, 85.86, 83.61, 81.36, 79.11, 76.86, 74.56], "format": ".3f", "labelFont": "DejaVu Sans", "labelFontSize": 11, "labelColor": "#000000", "tickColor": "#000000", "tickSize": 3, "labelPadding": 2, "domainColor": "#000000", "grid": false, "labelAlign": "left", "labelBaseline": "middle", "labelOverlap": false, "labelFlush": false}},
  "y2": {"field": "l"}
 }},
{"data": {"name": "lvS"}, "mark": {"type": "rule", "color": "#FF0000", "strokeWidth": 1.2},
 "encoding": {"y": {"field": "p", "type": "quantitative", "scale": {"domain": [74.02, 108.21], "nice": false, "zero": false}, "title": null}}},
{"data": {"name": "lvD"}, "mark": {"type": "rule", "color": "#FF0000", "strokeWidth": 1.2, "strokeDash": [16, 8]},
 "encoding": {"y": {"field": "p", "type": "quantitative", "scale": {"domain": [74.02, 108.21], "nice": false, "zero": false}, "title": null}}},
{"data": {"name": "bid"}, "mark": {"type": "rule", "color": "#C0C0C0", "strokeWidth": 1},
 "encoding": {"y": {"field": "p", "type": "quantitative", "scale": {"domain": [74.02, 108.21], "nice": false, "zero": false}, "title": null}}},
{"data": {"name": "tl"}, "mark": {"type": "line", "color": "#0000FF", "strokeWidth": 1, "clip": true},
 "encoding": {
  "x": {"field": "i", "type": "quantitative", "scale": {"domain": [-0.25, 927.75], "nice": false, "zero": false}, "title": null},
  "y": {"field": "p", "type": "quantitative", "scale": {"domain": [74.02, 108.21], "nice": false, "zero": false}, "title": null},
  "detail": {"field": "g", "type": "nominal"}
 }},
{"data": {"name": "el"}, "transform": [{"filter": "datum.e === 1"}],
 "mark": {"type": "point", "filled": false, "color": "#0A0AA6", "strokeWidth": 2, "opacity": 1, "size": 6147, "shape": "M1,0C1,0.4225,0.5523,0.765,0,0.765C-0.5523,0.765,-1,0.4225,-1,0C-1,-0.4225,-0.5523,-0.765,0,-0.765C0.5523,-0.765,1,-0.4225,1,0Z"},
 "encoding": {
  "x": {"field": "i", "type": "quantitative", "scale": {"domain": [-0.25, 927.75], "nice": false, "zero": false}, "title": null},
  "y": {"field": "p", "type": "quantitative", "scale": {"domain": [74.02, 108.21], "nice": false, "zero": false}, "title": null}
 }},
{"data": {"name": "el"}, "transform": [{"filter": "datum.e === 2"}],
 "mark": {"type": "point", "filled": false, "color": "#0A0AA6", "strokeWidth": 2, "opacity": 1, "size": 8208, "shape": "M1,0C1,0.5523,0.5523,1,0,1C-0.5523,1,-1,0.5523,-1,0C-1,-0.5523,-0.5523,-1,0,-1C0.5523,-1,1,-0.5523,1,0Z"},
 "encoding": {
  "x": {"field": "i", "type": "quantitative", "scale": {"domain": [-0.25, 927.75], "nice": false, "zero": false}, "title": null},
  "y": {"field": "p", "type": "quantitative", "scale": {"domain": [74.02, 108.21], "nice": false, "zero": false}, "title": null}
 }},
{"data": {"name": "el"}, "transform": [{"filter": "datum.e === 3"}],
 "mark": {"type": "point", "filled": false, "color": "#0A0AA6", "strokeWidth": 2, "opacity": 1, "size": 8136, "shape": "M1,0C1,0.4363,0.5523,0.79,0,0.79C-0.5523,0.79,-1,0.4363,-1,0C-1,-0.4363,-0.5523,-0.79,0,-0.79C0.5523,-0.79,1,-0.4363,1,0Z"},
 "encoding": {
  "x": {"field": "i", "type": "quantitative", "scale": {"domain": [-0.25, 927.75], "nice": false, "zero": false}, "title": null},
  "y": {"field": "p", "type": "quantitative", "scale": {"domain": [74.02, 108.21], "nice": false, "zero": false}, "title": null}
 }},
{"data": {"name": "lvS"}, "mark": {"type": "point", "filled": true, "color": "#FF0000", "opacity": 1, "strokeWidth": 0, "size": 2304, "xOffset": 25, "shape": "M-1,-0.3125L1,-0.3125L1,0.3125L-1,0.3125Z"},
 "encoding": {"x": {"value": "width"}, "y": {"field": "p", "type": "quantitative", "scale": {"domain": [74.02, 108.21], "nice": false, "zero": false}, "title": null}}},
{"data": {"name": "lvD"}, "mark": {"type": "point", "filled": true, "color": "#FF0000", "opacity": 1, "strokeWidth": 0, "size": 2304, "xOffset": 25, "shape": "M-1,-0.3125L1,-0.3125L1,0.3125L-1,0.3125Z"},
 "encoding": {"x": {"value": "width"}, "y": {"field": "p", "type": "quantitative", "scale": {"domain": [74.02, 108.21], "nice": false, "zero": false}, "title": null}}},
{"data": {"name": "bid"}, "mark": {"type": "point", "filled": true, "color": "#000000", "opacity": 1, "strokeWidth": 0, "size": 2304, "xOffset": 25, "shape": "M-1,-0.3125L1,-0.3125L1,0.3125L-1,0.3125Z"},
 "encoding": {"x": {"value": "width"}, "y": {"field": "p", "type": "quantitative", "scale": {"domain": [74.02, 108.21], "nice": false, "zero": false}, "title": null}}},
{"data": {"name": "lvS"}, "mark": {"type": "text", "color": "#FFFFFF", "align": "left", "baseline": "middle", "dx": 5, "font": "DejaVu Sans", "fontSize": 11},
 "encoding": {"x": {"value": "width"}, "y": {"field": "p", "type": "quantitative", "scale": {"domain": [74.02, 108.21], "nice": false, "zero": false}, "title": null}, "text": {"field": "p", "type": "quantitative", "format": ".3f"}}},
{"data": {"name": "lvD"}, "mark": {"type": "text", "color": "#FFFFFF", "align": "left", "baseline": "middle", "dx": 5, "font": "DejaVu Sans", "fontSize": 11},
 "encoding": {"x": {"value": "width"}, "y": {"field": "p", "type": "quantitative", "scale": {"domain": [74.02, 108.21], "nice": false, "zero": false}, "title": null}, "text": {"field": "p", "type": "quantitative", "format": ".3f"}}},
{"data": {"name": "bid"}, "mark": {"type": "text", "color": "#FFFFFF", "align": "left", "baseline": "middle", "dx": 5, "font": "DejaVu Sans", "fontSize": 11},
 "encoding": {"x": {"value": "width"}, "y": {"field": "p", "type": "quantitative", "scale": {"domain": [74.02, 108.21], "nice": false, "zero": false}, "title": null}, "text": {"field": "p", "type": "quantitative", "format": ".3f"}}}
]
},
{
"width": 1856, "height": 120,
"title": {"text": "RSI(14) 78.4834\u00a0\u00a0Sto(14,3,3) 90.5584 93.0954", "anchor": "start", "frame": "group", "baseline": "top", "offset": -16, "dx": 3, "font": "DejaVu Sans", "fontSize": 11, "fontWeight": "normal", "color": "#000000"},
"layer": [
{"data": {"name": "ilS"}, "mark": {"type": "rule", "color": "#C71585", "strokeWidth": 1},
 "encoding": {"y": {"field": "v", "type": "quantitative", "scale": {"domain": [-0.9, 102], "nice": false, "zero": false}, "axis": null, "title": null}}},
{"data": {"name": "ilD"}, "mark": {"type": "rule", "color": "#C71585", "strokeWidth": 1, "strokeDash": [3, 2]},
 "encoding": {"y": {"field": "v", "type": "quantitative", "scale": {"domain": [-0.9, 102], "nice": false, "zero": false}, "title": null}}},
{"data": {"name": "bars"}, "mark": {"type": "line", "color": "#FF0000", "strokeWidth": 2},
 "encoding": {
  "x": {"field": "i", "type": "quantitative", "scale": {"domain": [-0.25, 927.75], "nice": false, "zero": false}, "title": null,
        "axis": {"values": [0, 40, 80, 120, 160, 200, 240, 280, 320, 360, 400, 440, 480, 520, 560, 600], "labelExpr": "['3 Jul 2014','28 Aug 2014','23 Oct 2014','18 Dec 2014','16 Feb 2015','13 Apr 2015','8 Jun 2015','3 Aug 2015','28 Sep 2015','23 Nov 2015','20 Jan 2016','16 Mar 2016','11 May 2016','6 Jul 2016','31 Aug 2016','26 Oct 2016'][round(datum.value/40)]", "labelAlign": "left", "labelFont": "DejaVu Sans", "labelFontSize": 11, "labelColor": "#000000", "tickColor": "#000000", "tickSize": 4, "labelPadding": 2, "domainColor": "#000000", "grid": false, "labelOverlap": false, "labelFlush": false, "minExtent": 22, "maxExtent": 22}},
  "y": {"field": "r", "type": "quantitative", "scale": {"domain": [-0.9, 102], "nice": false, "zero": false}, "title": null}
 }},
{"data": {"name": "bars"}, "mark": {"type": "line", "color": "#20B2AA", "strokeWidth": 1},
 "encoding": {
  "x": {"field": "i", "type": "quantitative", "scale": {"domain": [-0.25, 927.75], "nice": false, "zero": false}, "title": null},
  "y": {"field": "k", "type": "quantitative", "scale": {"domain": [-0.9, 102], "nice": false, "zero": false}, "title": null}
 }},
{"data": {"name": "bars"}, "mark": {"type": "line", "color": "#FF0000", "strokeWidth": 1},
 "encoding": {
  "x": {"field": "i", "type": "quantitative", "scale": {"domain": [-0.25, 927.75], "nice": false, "zero": false}, "title": null},
  "y": {"field": "d", "type": "quantitative", "scale": {"domain": [-0.9, 102], "nice": false, "zero": false}, "title": null}
 }},
{"data": {"name": "il"}, "mark": {"type": "point", "filled": true, "color": "#C71585", "opacity": 1, "strokeWidth": 0, "size": 225, "xOffset": 8.5, "shape": "M-1,-0.8L1,-0.8L1,0.8L-1,0.8Z"},
 "encoding": {"x": {"value": "width"}, "y": {"field": "v", "type": "quantitative", "scale": {"domain": [-0.9, 102], "nice": false, "zero": false}, "title": null}}},
{"data": {"name": "il"}, "mark": {"type": "text", "color": "#FFFFFF", "align": "left", "baseline": "middle", "dx": 1, "font": "DejaVu Sans", "fontSize": 11},
 "encoding": {"x": {"value": "width"}, "y": {"field": "v", "type": "quantitative", "scale": {"domain": [-0.9, 102], "nice": false, "zero": false}, "title": null}, "text": {"field": "v", "type": "quantitative"}}},
{"data": {"name": "iTop"}, "mark": {"type": "text", "color": "#000000", "align": "left", "baseline": "top", "dx": 2, "font": "DejaVu Sans", "fontSize": 11},
 "encoding": {"x": {"value": "width"}, "y": {"field": "v", "type": "quantitative", "scale": {"domain": [-0.9, 102], "nice": false, "zero": false}, "title": null}, "text": {"field": "v", "type": "quantitative"}}},
{"data": {"name": "iBot"}, "mark": {"type": "text", "color": "#000000", "align": "left", "baseline": "bottom", "dx": 2, "font": "DejaVu Sans", "fontSize": 11},
 "encoding": {"x": {"value": "width"}, "y": {"field": "v", "type": "quantitative", "scale": {"domain": [-0.9, 102], "nice": false, "zero": false}, "title": null}, "text": {"field": "v", "type": "quantitative"}}}
]
},
{
"width": 1856, "height": 27,
"view": {"stroke": null, "fill": "#F0F0F0"},
"data": {"values": [{"t":"AUDNZD,H1"},{"t":"NZDCHF,H4"},{"t":"CADJPY,Daily"},{"t":"CADCHF,Daily"},{"t":"USDCAD,Daily"},{"t":"AUDUSD,Daily"},{"t":"NZDUSD,Daily"},{"t":"GBPUSD,Daily"},{"t":"EURCAD,H4"},{"t":"USDCHF,H4"},{"t":"EURJPY,Daily"},{"t":"USDJPY,H4"},{"t":"EURUSD,M15"},{"t":"GBPJPY,Daily"},{"t":"CHFJPY,Daily"},{"t":"EURNZD,Daily"}]},
"layer": [
{"mark": {"type": "rect", "strokeWidth": 1},
 "encoding": {
  "x": {"field": "t", "type": "nominal", "sort": null, "scale": {"paddingInner": 0, "paddingOuter": 0}, "axis": null},
  "fill": {"condition": {"test": "datum.t === 'CADJPY,Daily'", "value": "#FFFFFF"}, "value": "#F0F0F0"},
  "stroke": {"condition": {"test": "datum.t === 'CADJPY,Daily'", "value": "#000000"}, "value": "#C8C8C8"}
 }},
{"mark": {"type": "text", "font": "Liberation Sans", "fontSize": 14, "baseline": "middle"},
 "encoding": {
  "x": {"field": "t", "type": "nominal", "sort": null, "axis": null},
  "text": {"field": "t", "type": "nominal"},
  "color": {"condition": {"test": "datum.t === 'CADJPY,Daily'", "value": "#000000"}, "value": "#6E6E6E"}
 }}
]
}
]
}
